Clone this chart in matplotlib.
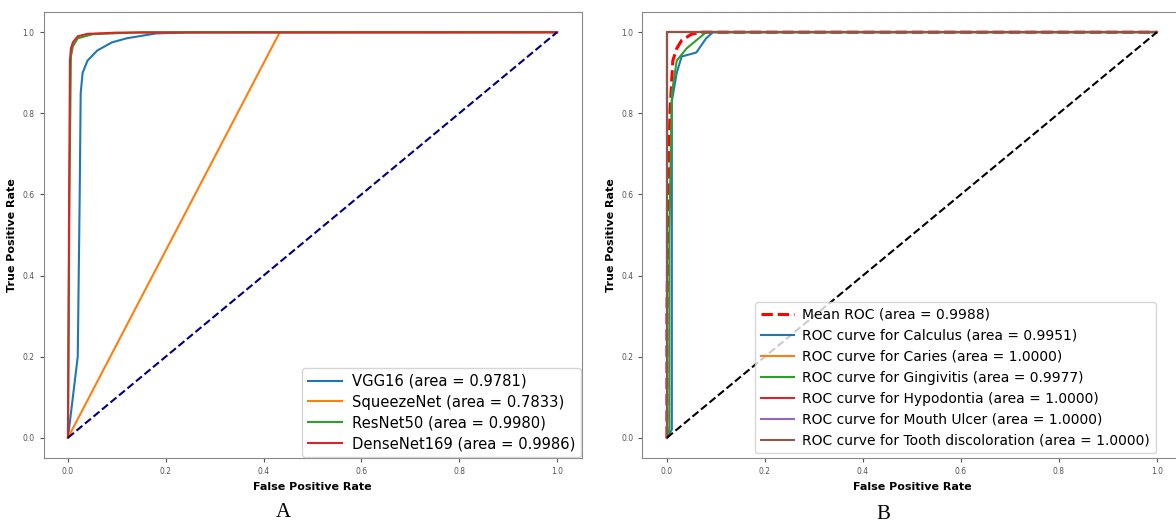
import matplotlib.pyplot as plt

# Panel A: ROC curves per model
vgg_fpr = [0.0, 0.02, 0.024, 0.026, 0.03, 0.04, 0.06, 0.09, 0.12, 0.18, 0.25, 1.0]
vgg_tpr = [0.0, 0.2, 0.6, 0.85, 0.9, 0.93, 0.955, 0.975, 0.985, 0.997, 1.0, 1.0]
squeeze_fpr = [0.0, 0.433, 1.0]
squeeze_tpr = [0.0, 1.0, 1.0]
resnet_fpr = [0.0, 0.003, 0.006, 0.01, 0.02, 0.05, 0.15, 1.0]
resnet_tpr = [0.0, 0.6, 0.94, 0.965, 0.985, 0.995, 1.0, 1.0]
dense_fpr = [0.0, 0.002, 0.004, 0.006, 0.01, 0.02, 0.04, 0.1, 1.0]
dense_tpr = [0.0, 0.5, 0.93, 0.96, 0.975, 0.99, 0.996, 0.999, 1.0]

modelos = ['VGG16', 'SqueezeNet', 'ResNet50', 'DenseNet169']
auc_modelos = [0.9781, 0.7833, 0.9980, 0.9986]

# Panel B: ROC curves per class
mean_fpr = [0.0, 0.0, 0.003, 0.006, 0.012, 0.02, 0.03, 0.05, 0.07, 1.0]
mean_tpr = [0.0, 0.3, 0.6, 0.8, 0.93, 0.96, 0.98, 0.995, 1.0, 1.0]
calc_fpr = [0.0, 0.01, 0.01, 0.02, 0.03, 0.06, 0.08, 0.094, 1.0]
calc_tpr = [0.0, 0.02, 0.83, 0.9, 0.94, 0.95, 0.985, 1.0, 1.0]
ging_fpr = [0.0, 0.005, 0.005, 0.01, 0.02, 0.04, 0.06, 0.08, 1.0]
ging_tpr = [0.0, 0.02, 0.5, 0.85, 0.93, 0.96, 0.98, 1.0, 1.0]
perfect_fpr = [0.0, 0.0, 1.0]
perfect_tpr = [0.0, 1.0, 1.0]

clases = ['Calculus', 'Caries', 'Gingivitis', 'Hypodontia', 'Mouth Ulcer', 'Tooth discoloration']
auc_clases = [0.9951, 1.0000, 0.9977, 1.0000, 1.0000, 1.0000]
auc_mean = 0.9988

fig = plt.figure(figsize=(11.76, 5.26), dpi=100)
ax1 = fig.add_axes([0.037, 0.1293, 0.4575, 0.848])
ax2 = fig.add_axes([0.5463, 0.1293, 0.4583, 0.848])

# Panel A
curvas = [(vgg_fpr, vgg_tpr), (squeeze_fpr, squeeze_tpr), (resnet_fpr, resnet_tpr), (dense_fpr, dense_tpr)]
for i, (fpr, tpr) in enumerate(curvas):
    ax1.plot(fpr, tpr, color=f'C{i}', lw=1.5, label=f'{modelos[i]} (area = {auc_modelos[i]:.4f})')
ax1.plot([0, 1], [0, 1], color='navy', lw=1.5, linestyle='--')

# Panel B
ax2.plot(mean_fpr, mean_tpr, color='red', lw=2.2, linestyle='--', label=f'Mean ROC (area = {auc_mean:.4f})')
curvas_b = [(calc_fpr, calc_tpr), (perfect_fpr, perfect_tpr), (ging_fpr, ging_tpr),
            (perfect_fpr, perfect_tpr), (perfect_fpr, perfect_tpr), (perfect_fpr, perfect_tpr)]
for i, (fpr, tpr) in enumerate(curvas_b):
    ax2.plot(fpr, tpr, color=f'C{i}', lw=1.5,
             label=f'ROC curve for {clases[i]} (area = {auc_clases[i]:.4f})')
ax2.plot([0, 1], [0, 1], 'k--', lw=1.5)

for ax in (ax1, ax2):
    ax.set_xlim(-0.05, 1.05)
    ax.set_ylim(-0.05, 1.05)
    ax.set_xticks([0.0, 0.2, 0.4, 0.6, 0.8, 1.0])
    ax.set_yticks([0.0, 0.2, 0.4, 0.6, 0.8, 1.0])
    ax.tick_params(labelsize=5.5, length=3, width=0.8, colors='#555555')
    for s in ax.spines.values():
        s.set_color('#888888')
    ax.set_xlabel('False Positive Rate', fontsize=8, fontweight='bold')
    ax.set_ylabel('True Positive Rate', fontsize=8, fontweight='bold')

ax1.legend(loc='lower right', fontsize=10.6, labelspacing=0.4, borderaxespad=0.05,
           handlelength=2.3, handletextpad=0.65)
ax2.legend(loc='lower right', bbox_to_anchor=(0.952, 0.011), borderaxespad=0, fontsize=10,
           labelspacing=0.5, handlelength=2.4, handletextpad=0.6)

fig.text(0.2406, 0.025, 'A', fontsize=15, family='Liberation Serif', ha='center', va='center')
fig.text(0.7508, 0.022, 'B', fontsize=15, family='Liberation Serif', ha='center', va='center')

plt.savefig('out.png', dpi=100)
